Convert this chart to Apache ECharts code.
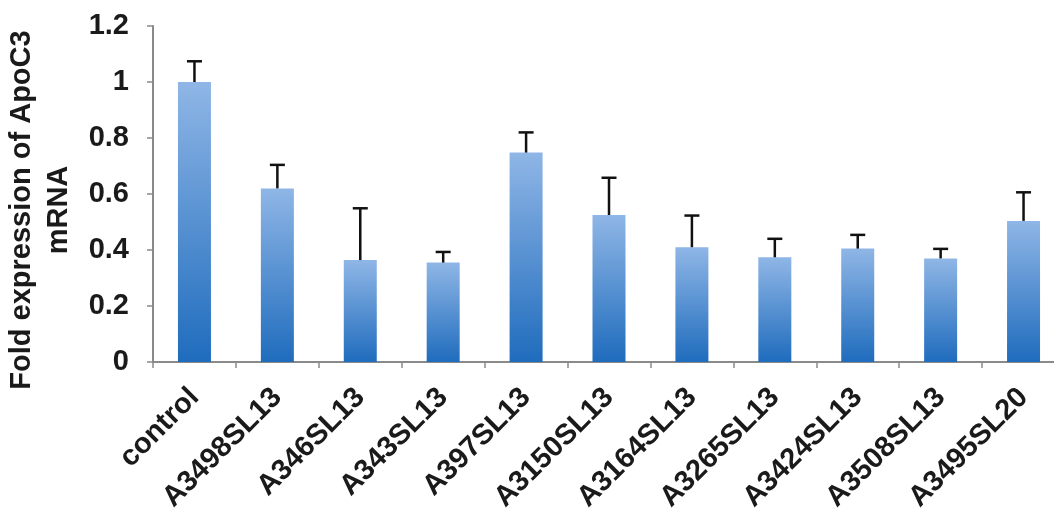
<!DOCTYPE html>
<html>
<head>
<meta charset="utf-8">
<style>
  html, body { margin: 0; padding: 0; background: #ffffff; }
  #chart { width: 1054px; height: 519px; }
</style>
<script src="https://cdn.jsdelivr.net/npm/echarts@6/dist/echarts.min.js"></script>
</head>
<body>
<div id="chart"></div>
<script>
// Knockdown constructs tested, with the control first
const categories = ['control', 'A3498SL13', 'A346SL13', 'A343SL13', 'A397SL13', 'A3150SL13',
  'A3164SL13', 'A3265SL13', 'A3424SL13', 'A3508SL13', 'A3495SL20'];
// Mean fold expression of ApoC3 mRNA relative to control
const foldExpression = [1.0, 0.62, 0.364, 0.355, 0.748, 0.525, 0.41, 0.374, 0.405, 0.37, 0.504];
// Upper error (added on top of each mean)
const errorUp = [0.074, 0.084, 0.185, 0.038, 0.072, 0.133, 0.113, 0.066, 0.049, 0.034, 0.102];
// Value-axis ticks
const yTicks = [0, 0.2, 0.4, 0.6, 0.8, 1, 1.2];

const FONT = '"Liberation Sans", Arial, Helvetica, sans-serif';
const axisGrey = '#8a8a8a';

const chart = echarts.init(document.getElementById('chart'), null, { renderer: 'canvas' });

const barFill = new echarts.graphic.LinearGradient(0, 0, 0, 1, [
  { offset: 0, color: '#8fb6e6' },
  { offset: 1, color: '#1f6cbd' }
]);

chart.setOption({
  animation: false,
  backgroundColor: '#ffffff',
  grid: { left: 153, right: -11, top: 26, bottom: 157, outerBoundsMode: 'none' },
  xAxis: {
    type: 'category',
    data: categories,
    axisLine: { lineStyle: { color: axisGrey, width: 2 } },
    axisTick: { show: true, length: 6, lineStyle: { color: axisGrey, width: 1.5 } },
    axisLabel: {
      rotate: 45,
      interval: 0,
      margin: 31,
      color: '#1a1a1a',
      fontFamily: FONT,
      fontWeight: 'bold',
      fontSize: 29
    }
  },
  yAxis: {
    type: 'value',
    min: yTicks[0],
    max: yTicks[yTicks.length - 1],
    interval: yTicks[1] - yTicks[0],
    name: 'Fold expression of ApoC3\nmRNA',
    nameLocation: 'middle',
    nameGap: 76,
    nameTextStyle: {
      color: '#1a1a1a',
      fontFamily: FONT,
      fontWeight: 'bold',
      fontSize: 29,
      lineHeight: 37,
      align: 'center',
      padding: [0, 32, 0, 0]
    },
    splitLine: { show: false },
    axisLine: { show: true, lineStyle: { color: axisGrey, width: 2 } },
    axisTick: { show: true, length: 6, lineStyle: { color: axisGrey, width: 1.5 } },
    axisLabel: {
      margin: 24,
      color: '#1a1a1a',
      fontFamily: FONT,
      fontWeight: 'bold',
      fontSize: 29,
      formatter: v => String(+v.toFixed(1))
    }
  },
  series: [
    {
      type: 'bar',
      data: foldExpression,
      barWidth: 33,
      itemStyle: { color: barFill },
      z: 2
    },
    {
      type: 'custom',
      data: foldExpression.map((m, i) => [i, m, m + errorUp[i]]),
      z: 3,
      renderItem: function (params, api) {
        const i = api.value(0);
        const base = api.coord([i, api.value(1)]);
        const top = api.coord([i, api.value(2)]);
        const half = 7.5;
        const style = { stroke: '#111111', lineWidth: 2.5 };
        return {
          type: 'group',
          children: [
            { type: 'line', shape: { x1: base[0], y1: base[1], x2: top[0], y2: top[1] }, style },
            { type: 'line', shape: { x1: top[0] - half, y1: top[1], x2: top[0] + half, y2: top[1] }, style }
          ]
        };
      }
    }
  ]
});
</script>
</body>
</html>
